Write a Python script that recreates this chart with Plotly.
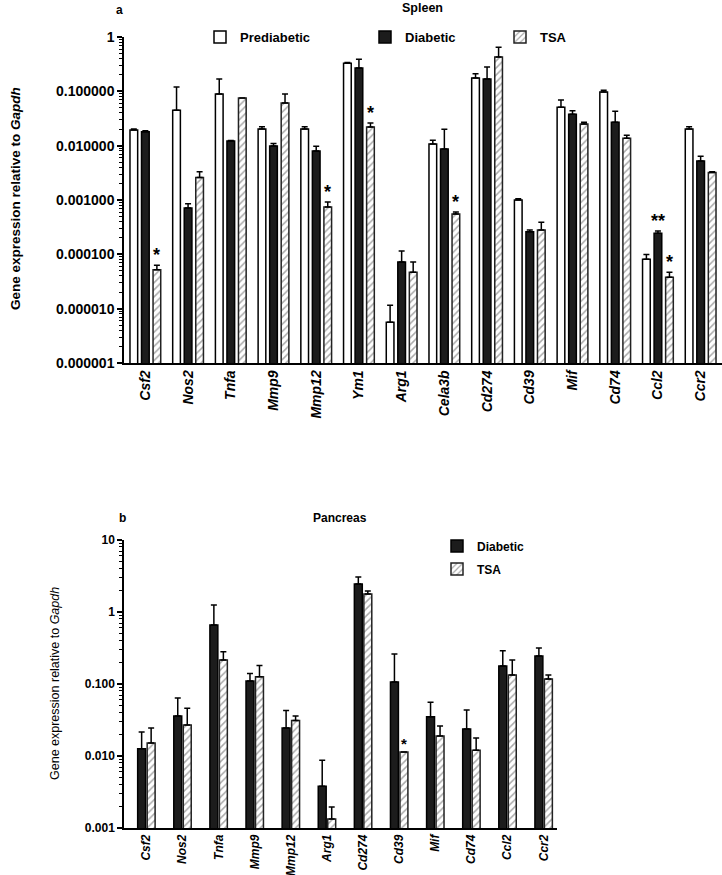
import numpy as np
import plotly.graph_objects as go

# ---------------- data ----------------
genes_spleen = ["Csf2", "Nos2", "Tnfa", "Mmp9", "Mmp12", "Ym1", "Arg1", "Cela3b",
                "Cd274", "Cd39", "Mif", "Cd74", "Ccl2", "Ccr2"]
spleen_prediabetic = [0.0194, 0.045, 0.089, 0.0203, 0.0203, 0.33, 5.6e-6, 0.0107,
                      0.176, 0.0010, 0.051, 0.097, 8.1e-5, 0.0203]
spleen_prediabetic_err = [0.0008, 0.075, 0.079, 0.002, 0.002, 0.01, 6.0e-6, 0.0019,
                          0.034, 0.00005, 0.018, 0.008, 1.8e-5, 0.002]
spleen_diabetic = [0.018, 0.00071, 0.0122, 0.0099, 0.0080, 0.27, 7.2e-5, 0.0087,
                   0.168, 0.00026, 0.038, 0.027, 2.45e-4, 0.0052]
spleen_diabetic_err = [0.0008, 0.00014, 0.0003, 0.0011, 0.0018, 0.12, 4.3e-5, 0.0113,
                       0.112, 0.00002, 0.006, 0.016, 2.5e-5, 0.0012]
spleen_tsa = [5.2e-5, 0.0026, 0.075, 0.061, 0.00074, 0.022, 4.7e-5, 0.00055,
              0.43, 0.00028, 0.025, 0.0137, 3.8e-5, 0.0032]
spleen_tsa_err = [1.1e-5, 0.0007, 0.0, 0.028, 0.00018, 0.004, 2.5e-5, 0.00005,
                  0.22, 0.00011, 0.002, 0.0019, 0.9e-5, 0.0001]
spleen_stars = [("Csf2", "TSA", "*"), ("Mmp12", "TSA", "*"), ("Ym1", "TSA", "*"),
                ("Cela3b", "TSA", "*"), ("Ccl2", "Diabetic", "**"), ("Ccl2", "TSA", "*")]
spleen_tickvals = [1e-6, 1e-5, 1e-4, 1e-3, 1e-2, 1e-1, 1]
spleen_ticktext = ["0.000001", "0.000010", "0.000100", "0.001000", "0.010000", "0.100000", "1"]

genes_pancreas = ["Csf2", "Nos2", "Tnfa", "Mmp9", "Mmp12", "Arg1", "Cd274", "Cd39",
                  "Mif", "Cd74", "Ccl2", "Ccr2"]
pancreas_diabetic = [0.0126, 0.036, 0.66, 0.11, 0.0245, 0.0038, 2.45, 0.107,
                     0.035, 0.0237, 0.178, 0.245]
pancreas_diabetic_err = [0.009, 0.028, 0.59, 0.03, 0.0185, 0.0049, 0.62, 0.153,
                         0.021, 0.020, 0.112, 0.071]
pancreas_tsa = [0.0151, 0.027, 0.215, 0.126, 0.031, 0.00133, 1.78, 0.0114,
                0.019, 0.012, 0.133, 0.117]
pancreas_tsa_err = [0.0093, 0.019, 0.065, 0.054, 0.005, 0.00062, 0.17, 0.0,
                    0.007, 0.0058, 0.082, 0.016]
pancreas_stars = [("Cd39", "TSA", "*")]
pancreas_tickvals = [1e-3, 1e-2, 1e-1, 1, 10]
pancreas_ticktext = ["0.001", "0.010", "0.100", "1", "10"]

# ---------------- styling ----------------
F = "Liberation Sans, Arial, Helvetica, sans-serif"
W, H = 722, 875

def px_x(p):
    return p / W

def px_y(p):
    return 1 - p / H

styles = {
    "Prediabetic": dict(color="white", line=dict(color="black", width=1.5)),
    "Diabetic": dict(color="#1c1c1c", line=dict(color="black", width=1.5)),
    "TSA": dict(color="white", line=dict(color="#222222", width=1.5),
                pattern=dict(shape="/", fgcolor="#555555", bgcolor="white",
                             size=5, solidity=0.3)),
}

fig = go.Figure()

def add_bar(x, y, err, name, xa, ya, width, offset, legend):
    fig.add_trace(go.Bar(
        x=x, y=y, name=name, xaxis=xa, yaxis=ya, width=width, offset=offset,
        marker=styles[name], legend=legend,
        error_y=dict(type="data", symmetric=False, array=err,
                     arrayminus=[0] * len(err), color="black",
                     thickness=1.5, width=3),
    ))

# top panel
tw = 0.18
tslot = 0.27
add_bar(genes_spleen, spleen_prediabetic, spleen_prediabetic_err, "Prediabetic",
        "x", "y", tw, -tslot - tw / 2, "legend")
add_bar(genes_spleen, spleen_diabetic, spleen_diabetic_err, "Diabetic",
        "x", "y", tw, -tw / 2, "legend2")
add_bar(genes_spleen, spleen_tsa, spleen_tsa_err, "TSA",
        "x", "y", tw, tslot - tw / 2, "legend3")

# bottom panel
bw = 0.22
bslot = 0.263
add_bar(genes_pancreas, pancreas_diabetic, pancreas_diabetic_err, "Diabetic",
        "x2", "y2", bw, -bslot / 2 - bw / 2, "legend4")
add_bar(genes_pancreas, pancreas_tsa, pancreas_tsa_err, "TSA",
        "x2", "y2", bw, bslot / 2 - bw / 2, "legend5")

annotations = []

# significance stars
top_series = {"Prediabetic": (spleen_prediabetic, spleen_prediabetic_err, -tslot),
              "Diabetic": (spleen_diabetic, spleen_diabetic_err, 0.0),
              "TSA": (spleen_tsa, spleen_tsa_err, tslot)}
for g, s, lab in spleen_stars:
    i = genes_spleen.index(g)
    vals, errs, off = top_series[s]
    annotations.append(dict(x=i + off, y=np.log10(vals[i] + errs[i]), xref="x", yref="y",
                            text="<b>" + lab + "</b>", showarrow=False, yanchor="bottom",
                            yshift=-2, font=dict(family=F, size=18, color="black")))
bot_series = {"Diabetic": (pancreas_diabetic, pancreas_diabetic_err, -bslot / 2),
              "TSA": (pancreas_tsa, pancreas_tsa_err, bslot / 2)}
for g, s, lab in pancreas_stars:
    i = genes_pancreas.index(g)
    vals, errs, off = bot_series[s]
    annotations.append(dict(x=i + off, y=np.log10(vals[i] + errs[i]), xref="x2", yref="y2",
                            text="<b>" + lab + "</b>", showarrow=False, yanchor="bottom",
                            yshift=-2, font=dict(family=F, size=15, color="black")))

# titles / panel letters / axis titles
def txt(x, y, s, size, bold=True, angle=0, xanchor="center"):
    annotations.append(dict(x=px_x(x), y=px_y(y), xref="paper", yref="paper",
                            text=("<b>%s</b>" % s) if bold else s, showarrow=False,
                            textangle=angle, xanchor=xanchor, yanchor="middle",
                            font=dict(family=F, size=size, color="black")))

txt(119, 10, "a", 12)
txt(422, 8, "Spleen", 12.5)
txt(15, 199, "Gene expression relative to <i>Gapdh</i>", 13.5, angle=-90)
txt(122, 518, "b", 12)
txt(340, 518, "Pancreas", 12)
txt(55, 683, "Gene expression relative to <i>Gapdh</i>", 12.5, bold=False, angle=-90)

axis_common = dict(showgrid=False, zeroline=False, showline=True, linecolor="black",
                   linewidth=1.5, automargin=False)

def ylog(rng, tv, tt, dom, size):
    return dict(type="log", range=rng, tickmode="array", tickvals=tv, ticktext=tt,
                ticks="outside", ticklen=5, tickwidth=1.5, tickcolor="black",
                tickfont=dict(family=F, size=size, color="black", weight="bold"),
                minor=dict(dtick="D1", ticks="outside", ticklen=3, tickwidth=1,
                           tickcolor="black", showgrid=False),
                domain=dom, **axis_common)

def leg(x, y, size):
    return dict(x=px_x(x), y=px_y(y), xanchor="left", yanchor="middle",
                orientation="h", bgcolor="rgba(0,0,0,0)",
                font=dict(family=F, size=size, color="black", weight="bold"))

fig.update_layout(
    width=W, height=H,
    margin=dict(l=0, r=0, t=0, b=0),
    paper_bgcolor="white", plot_bgcolor="white",
    showlegend=True,
    xaxis=dict(type="category", range=[-0.5, 13.5], domain=[px_x(124), 1.0],
               anchor="y", ticks="", tickangle=-90,
               tickfont=dict(family=F, size=14, color="black", weight="bold", style="italic"),
               **axis_common),
    yaxis=ylog([-6, 0], spleen_tickvals, spleen_ticktext, [px_y(363), px_y(37)], 14),
    xaxis2=dict(type="category", range=[-0.62, 11.37], domain=[px_x(124), px_x(557)],
                anchor="y2", ticks="", tickangle=-90,
                tickfont=dict(family=F, size=12, color="black", weight="bold", style="italic"),
                **axis_common),
    yaxis2=ylog([-3, 1], pancreas_tickvals, pancreas_ticktext, [px_y(828), px_y(540)], 12),
    legend=leg(200, 37, 13),
    legend2=leg(365, 37, 13),
    legend3=leg(500, 37, 13),
    legend4=leg(437, 546, 12),
    legend5=leg(437, 569, 12),
    annotations=annotations,
)

# the page body has a default 8px margin; remove it so the figure fills the window
fig.write_html("out.html",
               config={"displayModeBar": False},
               post_script="document.body.style.margin='0';document.body.style.overflow='hidden';")
